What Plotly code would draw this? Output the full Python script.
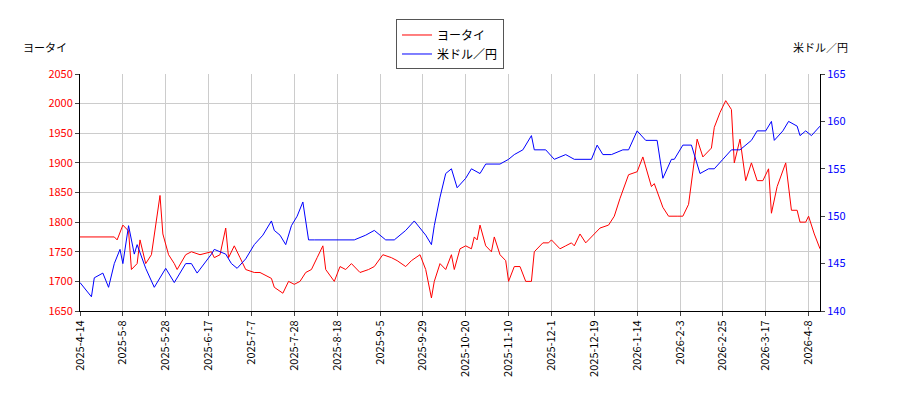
import plotly.graph_objects as go

# trading-day index since 2025-04-14
red_x = [0, 12, 13, 15, 17, 18, 20, 21, 23, 25, 28, 29, 31, 33, 34, 37, 39, 42, 46, 47,
         49, 51, 52, 54, 56, 58, 61, 63, 67, 68, 71, 73, 75, 77, 79, 81, 83, 85, 86, 89,
         91, 93, 95, 98, 101, 103, 106, 109, 111, 114, 116, 119, 121, 123, 124, 126, 128, 130, 131, 133,
         135, 137, 138, 139, 140, 142, 144, 145, 147, 149, 150, 152, 154, 156, 158, 159, 162, 164, 165, 168,
         170, 172, 173, 175, 177, 179, 182, 185, 187, 189, 192, 195, 197, 200, 201, 204, 206, 209, 211, 213,
         215, 216, 218, 221, 222, 224, 226, 228, 229, 231, 233, 235, 237, 239, 241, 242, 244, 247, 249, 251,
         252, 254, 255, 257, 259]
red_y = [1775, 1775, 1770, 1795, 1785, 1720, 1730, 1770, 1730, 1745, 1845, 1780, 1745, 1730, 1720, 1745, 1750, 1745, 1750, 1740,
         1745, 1790, 1740, 1760, 1740, 1720, 1715, 1715, 1705, 1690, 1680, 1700, 1695, 1700, 1715, 1720, 1740, 1760, 1720, 1700,
         1725, 1720, 1730, 1715, 1720, 1725, 1745, 1740, 1735, 1725, 1735, 1745, 1720, 1672, 1700, 1730, 1720, 1745, 1720, 1755,
         1760, 1755, 1775, 1770, 1795, 1760, 1750, 1775, 1745, 1735, 1700, 1725, 1725, 1700, 1700, 1750, 1765, 1765, 1770, 1755,
         1760, 1765, 1760, 1780, 1765, 1775, 1790, 1795, 1810, 1840, 1880, 1885, 1910, 1860, 1865, 1825, 1810, 1810, 1810, 1830,
         1910, 1940, 1910, 1925, 1960, 1985, 2005, 1990, 1900, 1940, 1870, 1900, 1870, 1870, 1890, 1815, 1860, 1900, 1820, 1820,
         1800, 1800, 1810, 1780, 1755]

blue_x = [0, 4, 5, 8, 10, 12, 14, 15, 17, 19, 20, 23, 26, 30, 33, 37, 39, 41, 46, 47,
          51, 53, 55, 58, 61, 64, 67, 68, 70, 72, 74, 76, 78, 80, 82, 86, 89, 93, 96, 100,
          103, 107, 110, 114, 117, 121, 123, 124, 126, 128, 130, 132, 135, 137, 140, 142, 145, 147, 150, 152,
          155, 158, 159, 163, 166, 170, 173, 177, 179, 181, 183, 186, 190, 192, 195, 198, 202, 204, 207, 208,
          211, 214, 217, 220, 222, 225, 228, 231, 235, 237, 240, 242, 243, 246, 248, 251, 252, 254, 256, 259]
blue_y = [143, 141.5, 143.5, 144, 142.5, 145, 146.5, 145, 149, 146, 147, 144.5, 142.5, 144.5, 143, 145, 145, 144, 146, 146.5,
          146, 145, 144.5, 145.5, 147, 148, 149.5, 148.5, 148, 147, 149, 150, 151.5, 147.5, 147.5, 147.5, 147.5, 147.5, 147.5, 148,
          148.5, 147.5, 147.5, 148.5, 149.5, 148, 147, 149, 152, 154.5, 155, 153, 154, 155, 154.5, 155.5, 155.5, 155.5, 156, 156.5,
          157, 158.5, 157, 157, 156, 156.5, 156, 156, 156, 157.5, 156.5, 156.5, 157, 157, 159, 158, 158, 154, 156, 156,
          157.5, 157.5, 154.5, 155, 155, 156, 157, 157, 158, 159, 159, 160, 158, 159, 160, 159.5, 158.5, 159, 158.5, 159.5]

tick_labels = ["2025-4-14", "2025-5-8", "2025-5-28", "2025-6-17", "2025-7-7", "2025-7-28",
               "2025-8-18", "2025-9-5", "2025-9-29", "2025-10-20", "2025-11-10", "2025-12-1",
               "2025-12-19", "2026-1-14", "2026-2-3", "2026-2-25", "2026-3-17", "2026-4-8"]
tick_pos = [i * 15 for i in range(len(tick_labels))]

fig = go.Figure()
fig.add_trace(go.Scatter(x=red_x, y=red_y, mode="lines", name="ヨータイ",
                         line=dict(color="#ff0000", width=1)))
fig.add_trace(go.Scatter(x=blue_x, y=blue_y, mode="lines", name="米ドル／円", yaxis="y2",
                         line=dict(color="#0000ff", width=1)))

axis_common = dict(showline=True, linecolor="black", mirror=False, ticks="outside",
                   ticklen=4, zeroline=False)
fig.update_layout(
    width=900, height=400,
    plot_bgcolor="white", paper_bgcolor="white",
    font=dict(family="Noto Sans CJK JP", size=11, color="black"),
    margin=dict(l=72, r=88, t=55, b=97),
    showlegend=True,
    legend=dict(x=0.5, y=1.23, xanchor="center", yanchor="top", bordercolor="#555555",
                borderwidth=1, bgcolor="white", font=dict(size=12)),
    xaxis=dict(range=[0, 259], tickvals=tick_pos, ticktext=tick_labels, tickangle=-90,
               showgrid=True, gridcolor="#cccccc", **axis_common),
    yaxis=dict(range=[1650, 2050], dtick=50, tickfont=dict(color="red"),
               showgrid=True, gridcolor="#cccccc", **axis_common),
    yaxis2=dict(range=[140, 165], dtick=5, overlaying="y", side="right",
                tickfont=dict(color="blue"), showgrid=False, **axis_common),
    annotations=[
        dict(text="ヨータイ", xref="paper", yref="paper", x=-0.08, y=1.07,
             xanchor="left", yanchor="bottom", showarrow=False, font=dict(size=11)),
        dict(text="米ドル／円", xref="paper", yref="paper", x=1.04, y=1.07,
             xanchor="right", yanchor="bottom", showarrow=False, font=dict(size=11)),
    ],
)
fig.write_html("out.html")
